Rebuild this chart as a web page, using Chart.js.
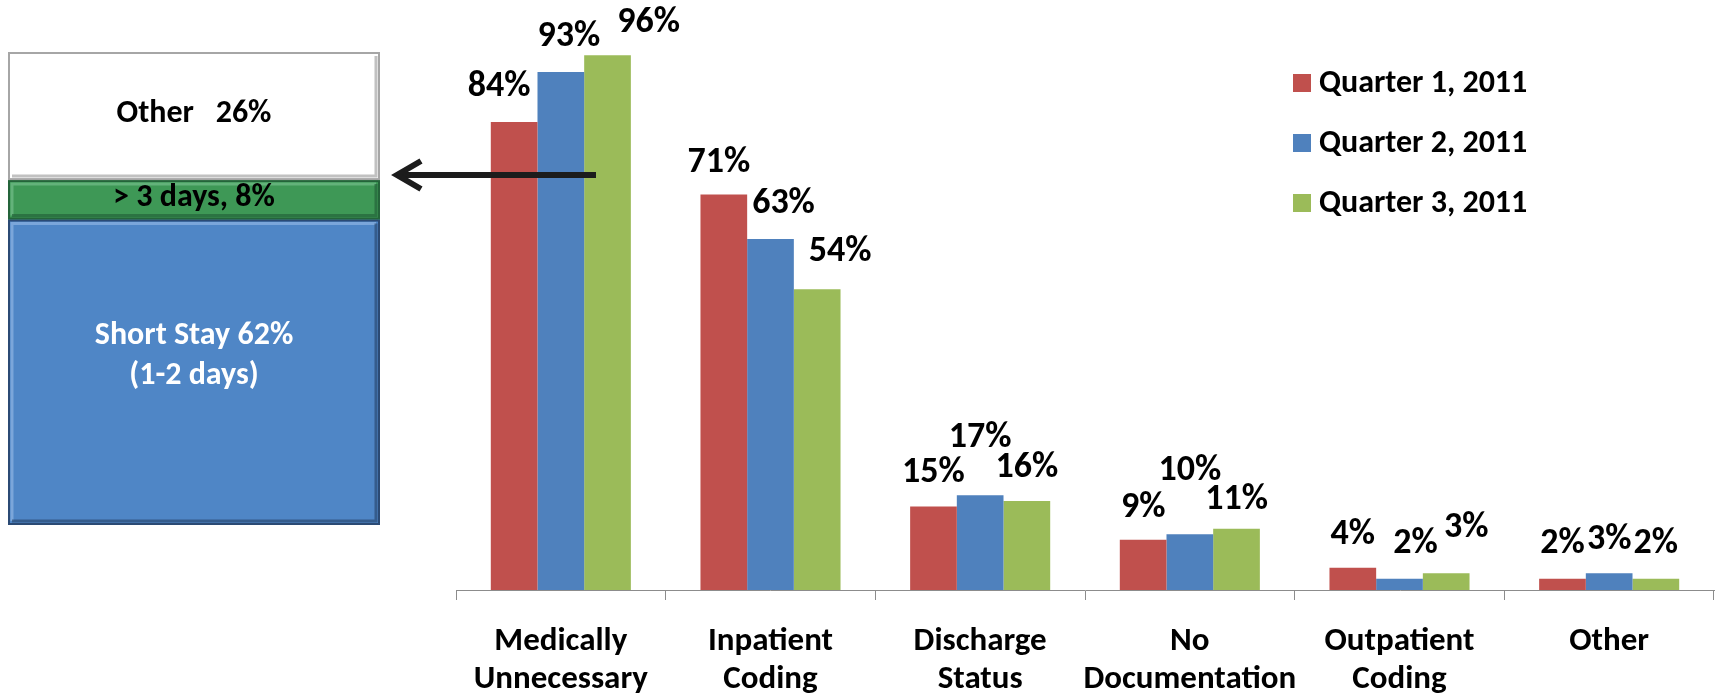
<!DOCTYPE html>
<html><head><meta charset="utf-8">
<script src="https://cdn.jsdelivr.net/npm/chart.js@4.4.1/dist/chart.umd.min.js"></script>
<style>
html,body{margin:0;padding:0;background:#fff;}
#wrap{position:relative;width:1716px;height:694px;overflow:hidden;}
#main{position:absolute;left:0;top:0;}
#box{position:absolute;left:0;top:0;}
</style></head><body>
<div id="wrap"><canvas id="main" width="1716" height="694"></canvas><canvas id="box" width="400" height="694"></canvas></div>
<script>
// ---- data ----
const categories = [["Medically","Unnecessary"],["Inpatient","Coding"],["Discharge","Status"],["No","Documentation"],["Outpatient","Coding"],["Other"]];
const seriesNames = ["Quarter 1, 2011","Quarter 2, 2011","Quarter 3, 2011"];
const quarter1 = [84,71,15,9,4,2];
const quarter2 = [93,63,17,10,2,3];
const quarter3 = [96,54,16,11,3,2];
const stayLabels = [["Short Stay 62%","(1-2 days)"],["> 3 days, 8%"],["Other   26%"]];
const stayValues = [62, 8, 26];

// ---- styles ----
const FONT = "Carlito, Calibri, Lato, 'Open Sans', sans-serif";
const barColors = ['#C0504D','#4F81BD','#9BBB59'];
// label nudges (dx, dy in px) per series per category, as placed in the original
const labelShift = [
  [[-15,-2],[-5,1],[0,0],[0,1],[0,0],[0,-2]],
  [[8,-2],[13,-2],[0,-24],[0,-30],[16,-2],[0,0]],
  [[41,1],[23,-4],[0,0],[0,4],[20,-12],[0,-2]]
];

const labelsPlugin = {
  id:'valueLabels',
  afterDatasetsDraw(chart){
    const ctx = chart.ctx;
    ctx.save();
    ctx.font = "bold 36px " + FONT;
    ctx.fillStyle = '#000';
    ctx.textAlign = 'center';
    ctx.textBaseline = 'middle';
    chart.data.datasets.forEach((ds, di) => {
      const meta = chart.getDatasetMeta(di);
      meta.data.forEach((bar, i) => {
        const s = labelShift[di][i];
        ctx.fillText(Math.round(ds.data[i]) + '%', bar.x + s[0], bar.y - 33 + s[1]);
      });
    });
    ctx.restore();
  }
};

const legendPlugin = {
  id:'sideLegend',
  afterDraw(chart){
    const ctx = chart.ctx;
    ctx.save();
    ctx.font = "bold 32px " + FONT;
    ctx.textAlign = 'left';
    ctx.textBaseline = 'middle';
    chart.data.datasets.forEach((ds, i) => {
      const cy = 83 + i * 60;
      ctx.fillStyle = ds.backgroundColor;
      ctx.fillRect(1293, cy - 9, 18, 18);
      ctx.fillStyle = '#000';
      ctx.fillText(ds.label, 1319, cy + 1);
    });
    ctx.restore();
  }
};

const arrowPlugin = {
  id:'arrow',
  afterDatasetsDraw(chart){
    const ctx = chart.ctx;
    ctx.save();
    ctx.strokeStyle = '#1c1c1c';
    ctx.lineWidth = 6;
    ctx.beginPath();
    ctx.moveTo(596, 175);
    ctx.lineTo(398, 175);
    ctx.stroke();
    ctx.lineJoin = 'miter';
    ctx.beginPath();
    ctx.moveTo(421, 161);
    ctx.lineTo(397, 175);
    ctx.lineTo(421, 189);
    ctx.stroke();
    ctx.restore();
  }
};

new Chart(document.getElementById('main'), {
  type:'bar',
  data:{
    labels:categories,
    datasets:[
      {label:seriesNames[0], data:quarter1, backgroundColor:barColors[0]},
      {label:seriesNames[1], data:quarter2, backgroundColor:barColors[1]},
      {label:seriesNames[2], data:quarter3, backgroundColor:barColors[2]}
    ]
  },
  options:{
    responsive:false, animation:false,
    layout:{padding:{left:456,right:2,top:33,bottom:0}},
    plugins:{legend:{display:false}, tooltip:{enabled:false}},
    datasets:{bar:{barPercentage:1, categoryPercentage:0.668}},
    scales:{
      x:{
        grid:{display:true, drawOnChartArea:false, drawTicks:true, tickLength:10, color:'#8c8c8c', offset:true},
        border:{display:true, color:'#8c8c8c', width:1},
        ticks:{font:{family:FONT, size:33, weight:'bold', lineHeight:1.15}, color:'#000', padding:23, maxRotation:0, autoSkip:false},
        afterFit(s){ s.height = 104; }
      },
      y:{display:false, min:0, max:100}
    }
  },
  plugins:[labelsPlugin, legendPlugin, arrowPlugin]
});

// ---- left stacked box ----
const boxFill = ['#4F86C6','#3E9856','#FFFFFF'];
const boxDark = ['#2B4A74','#24643A','#A6A6A6'];
const boxLight = ['#7BA6DA','#63B27A','#FFFFFF'];
const boxText = ['#FFFFFF','#000000','#000000'];
const boxTextDy = [-16, -2, -2];

const boxPlugin = {
  id:'boxDeco',
  afterDatasetsDraw(chart){
    const ctx = chart.ctx;
    ctx.save();
    chart.data.datasets.forEach((ds, di) => {
      const el = chart.getDatasetMeta(di).data[0];
      const l = el.x - el.width/2, r = el.x + el.width/2;
      const t = Math.min(el.y, el.base), b = Math.max(el.y, el.base);
      ctx.lineWidth = 2;
      ctx.strokeStyle = boxDark[di];
      ctx.strokeRect(l+1, t+1, r-l-2, b-t-2);
      ctx.lineWidth = 3;
      ctx.strokeStyle = boxLight[di];
      ctx.beginPath(); ctx.moveTo(l+4, b-4); ctx.lineTo(l+4, t+4); ctx.lineTo(r-4, t+4); ctx.stroke();
      ctx.strokeStyle = boxDark[di];
      ctx.globalAlpha = 0.7;
      ctx.beginPath(); ctx.moveTo(r-4, t+4); ctx.lineTo(r-4, b-4); ctx.lineTo(l+4, b-4); ctx.stroke();
      ctx.globalAlpha = 1;
      ctx.font = "bold 32px " + FONT;
      ctx.fillStyle = boxText[di];
      ctx.textAlign = 'center';
      ctx.textBaseline = 'middle';
      const lines = stayLabels[di];
      const cy = (t + b)/2 + boxTextDy[di];
      lines.forEach((ln, k) => {
        ctx.fillText(ln, el.x, cy + (k - (lines.length-1)/2) * 40);
      });
    });
    ctx.restore();
  }
};

new Chart(document.getElementById('box'), {
  type:'bar',
  data:{
    labels:[''],
    datasets: stayValues.map((v, i) => ({label: stayLabels[i].join(' '), data:[v], backgroundColor: boxFill[i], borderWidth:0}))
  },
  options:{
    responsive:false, animation:false,
    layout:{padding:{left:8, right:20, top:52, bottom:169}},
    plugins:{legend:{display:false}, tooltip:{enabled:false}},
    datasets:{bar:{barPercentage:1, categoryPercentage:1}},
    scales:{
      x:{display:false, stacked:true},
      y:{display:false, stacked:true, min:0, max:96}
    }
  },
  plugins:[boxPlugin]
});
</script>
</body></html>
